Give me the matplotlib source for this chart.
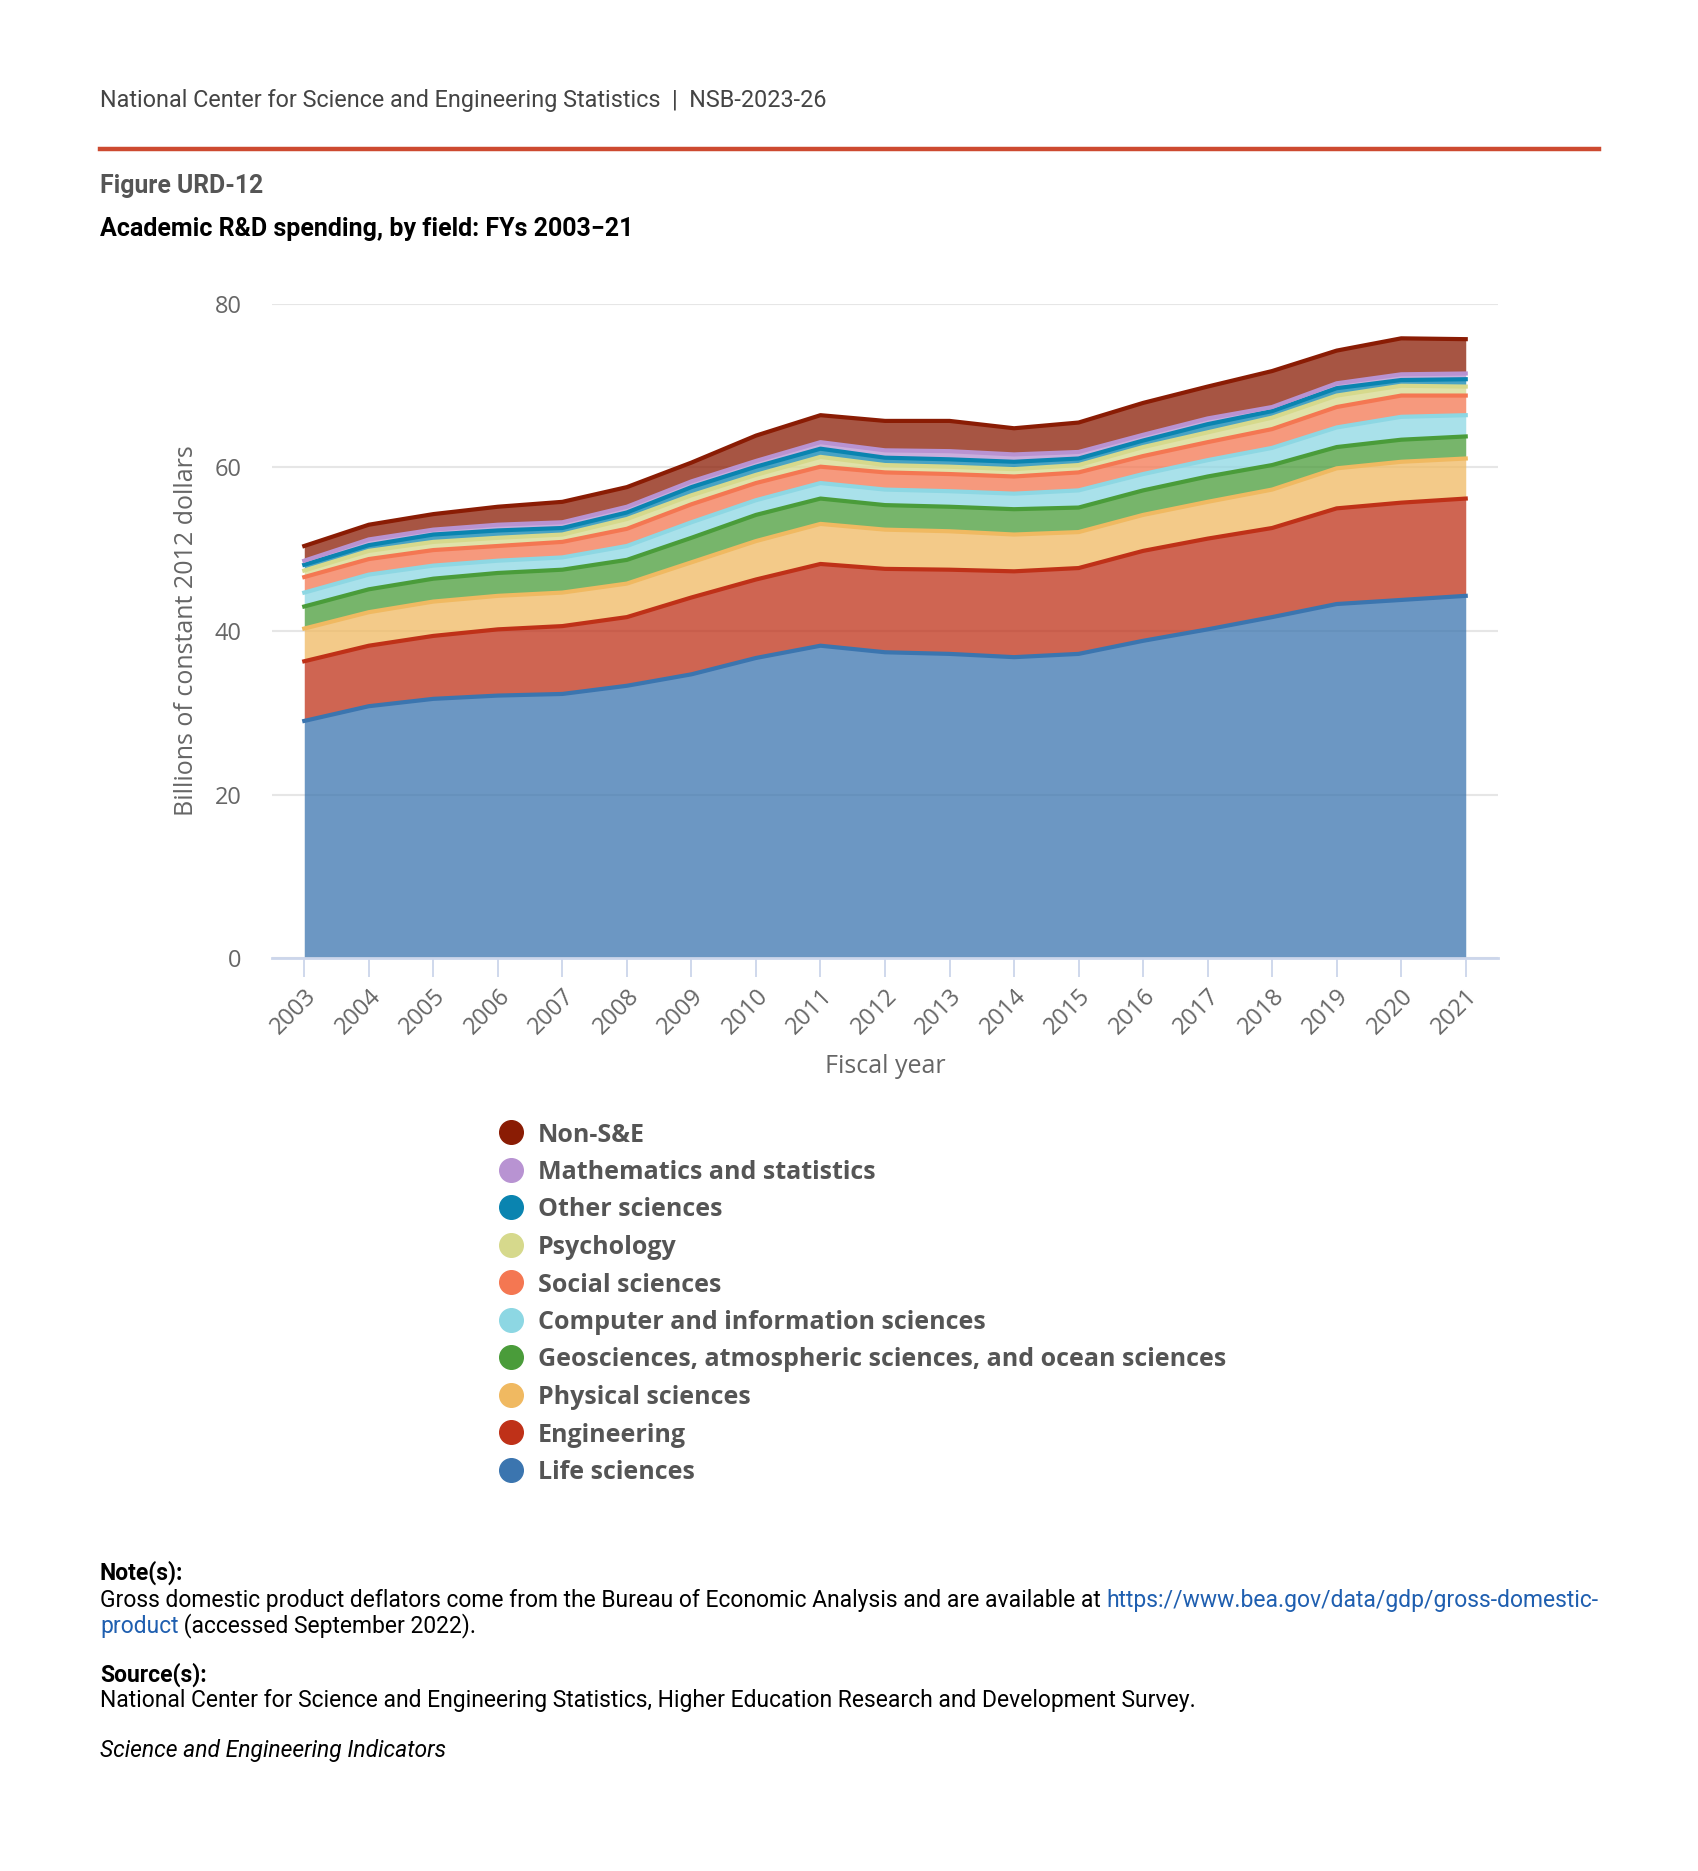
import numpy as np
import matplotlib.pyplot as plt
from matplotlib.lines import Line2D

# Academic R&D spending by field, billions of constant 2012 dollars
years = list(range(2003, 2022))
life = [29.0, 30.8, 31.7, 32.1, 32.3, 33.3, 34.7, 36.7, 38.2, 37.4, 37.2, 36.8, 37.2, 38.8, 40.2, 41.7, 43.3, 43.8, 44.3]
engineering = [7.3, 7.4, 7.7, 8.1, 8.3, 8.4, 9.4, 9.6, 10.0, 10.2, 10.3, 10.5, 10.5, 11.0, 11.1, 10.9, 11.7, 11.9, 11.9]
physical = [4.0, 4.1, 4.2, 4.1, 4.1, 4.1, 4.3, 4.7, 4.9, 4.8, 4.7, 4.5, 4.4, 4.4, 4.5, 4.7, 4.9, 5.0, 4.9]
geo = [2.7, 2.8, 2.8, 2.8, 2.8, 2.9, 3.0, 3.2, 3.1, 3.0, 3.0, 3.1, 3.0, 3.0, 3.1, 3.0, 2.6, 2.7, 2.7]
computer = [1.7, 1.8, 1.6, 1.5, 1.5, 1.7, 1.9, 1.8, 1.9, 1.9, 1.9, 1.9, 2.1, 2.0, 2.0, 2.1, 2.4, 2.8, 2.6]
social = [1.9, 1.9, 1.9, 1.8, 1.9, 2.1, 2.2, 2.1, 2.0, 2.1, 2.1, 2.1, 2.2, 2.2, 2.2, 2.3, 2.5, 2.6, 2.4]
psychology = [0.8, 1.0, 1.0, 1.0, 0.9, 1.2, 1.1, 1.0, 1.2, 0.9, 0.9, 0.9, 0.9, 1.1, 1.2, 1.4, 1.4, 1.2, 1.1]
other = [0.7, 0.7, 0.9, 0.9, 0.8, 0.8, 1.0, 1.0, 1.0, 0.9, 0.9, 0.9, 0.8, 0.8, 1.0, 0.8, 0.9, 0.7, 0.9]
math = [0.5, 0.7, 0.6, 0.7, 0.7, 0.7, 0.7, 0.7, 0.8, 0.9, 1.0, 0.9, 0.8, 0.7, 0.7, 0.5, 0.6, 0.7, 0.7]
non_se = [1.8, 1.8, 1.9, 2.2, 2.5, 2.4, 2.3, 3.1, 3.3, 3.6, 3.7, 3.2, 3.6, 3.9, 3.9, 4.4, 4.0, 4.4, 4.2]

series = [life, engineering, physical, geo, computer, social, psychology, other, math, non_se]
labels = ['Life sciences', 'Engineering', 'Physical sciences',
          'Geosciences, atmospheric sciences, and ocean sciences',
          'Computer and information sciences', 'Social sciences', 'Psychology',
          'Other sciences', 'Mathematics and statistics', 'Non-S&E']
colors = ['#3b75af', '#bf3118', '#f0b961', '#4a9c3a', '#8dd7e3',
          '#f47752', '#d6d98c', '#0a84b0', '#b893d2', '#8a1c04']

W, H = 1699, 1871
fig = plt.figure(figsize=(W / 100, H / 100), dpi=100)

def fx(px):
    return px / W

def fy(py):
    return 1 - py / H

# header
fig.text(fx(100), fy(100), 'National Center for Science and Engineering Statistics  |  NSB-2023-26',
         family='Roboto', fontsize=16.8, color='#444444', va='center')
fig.add_artist(Line2D([fx(100), fx(1599)], [fy(149), fy(149)], color='#cd4a30', lw=3.2))
fig.text(fx(100), fy(186), 'Figure URD-12', family='Roboto', fontweight='bold',
         fontsize=17.8, color='#555555', va='center')
fig.text(fx(100), fy(229), 'Academic R&D spending, by field: FYs 2003\u221221', family='Roboto',
         fontweight='bold', fontsize=18, color='#000000', va='center')

# chart
ax = fig.add_axes([fx(272), fy(958), fx(1498) - fx(272), (958 - 304) / H])
bottom = np.zeros(len(years))
for vals, col in zip(series, colors):
    top = bottom + np.array(vals)
    ax.fill_between(years, bottom, top, color=col, alpha=0.75, lw=0, zorder=2)
    ax.plot(years, top, color=col, lw=3, zorder=3)
    bottom = top

ax.set_xlim(2002.5, 2021.5)
ax.set_ylim(0, 80)
ax.set_yticks([0, 20, 40, 60, 80])
ax.set_xticks(years)
ax.set_xticklabels([str(y) for y in years], rotation=45, ha='right', rotation_mode='anchor',
                   family='Open Sans', fontsize=17, color='#666666')
ax.tick_params(axis='x', length=14, width=1.3, color='#ccd6eb', pad=5)
ax.tick_params(axis='y', length=0, pad=22, labelsize=17, labelcolor='#666666')
for t in ax.get_yticklabels():
    t.set_family('Open Sans')
ax.grid(axis='y', color='#e6e6e6', lw=1.5, zorder=0)
for s in ['top', 'right', 'left']:
    ax.spines[s].set_visible(False)
ax.spines['bottom'].set_color('#ccd6eb')
ax.spines['bottom'].set_linewidth(2)
ax.spines['bottom'].set_zorder(4)
ax.set_axisbelow(True)
ax.set_ylabel('Billions of constant 2012 dollars', family='Open Sans', fontsize=18,
              color='#666666', labelpad=11)
ax.set_xlabel('Fiscal year', family='Open Sans', fontsize=18, color='#666666', labelpad=10)

# legend, drawn row by row (top entry first)
leg_y0, leg_dy = 1132, 37.5
for i, (lab, col) in enumerate(zip(labels[::-1], colors[::-1])):
    y = leg_y0 + i * leg_dy
    fig.add_artist(Line2D([fx(511)], [fy(y)], marker='o', ls='none', markersize=17,
                          markerfacecolor=col, markeredgecolor=col))
    fig.text(fx(538), fy(y), lab, family='Open Sans', fontweight='bold', fontsize=18,
             color='#555555', va='center_baseline')

# notes
renderer = fig.canvas.get_renderer()

def text_run(x, y, parts, **kw):
    for txt, col in parts:
        t = fig.text(fx(x), fy(y), txt, color=col, va='center', **kw)
        x += t.get_window_extent(renderer).width

note_kw = dict(family='Roboto', fontsize=16.45)
link = '#1f5fb0'
fig.text(fx(100), fy(1573), 'Note(s):', family='Roboto', fontweight='bold', fontsize=16.45, va='center')
text_run(100, 1600, [('Gross domestic product deflators come from the Bureau of Economic Analysis '
                      'and are available at ', '#000000'),
                     ('https://www.bea.gov/data/gdp/gross-domestic-', link)], **note_kw)
text_run(100, 1626, [('product', link), (' (accessed September 2022).', '#000000')], **note_kw)
fig.text(fx(100), fy(1675), 'Source(s):', family='Roboto', fontweight='bold', fontsize=16.45, va='center')
fig.text(fx(100), fy(1701), 'National Center for Science and Engineering Statistics, Higher Education '
         'Research and Development Survey.', va='center', **note_kw)
fig.text(fx(100), fy(1750), 'Science and Engineering Indicators', style='italic', va='center', **note_kw)

fig.savefig('out.png', dpi=100)
